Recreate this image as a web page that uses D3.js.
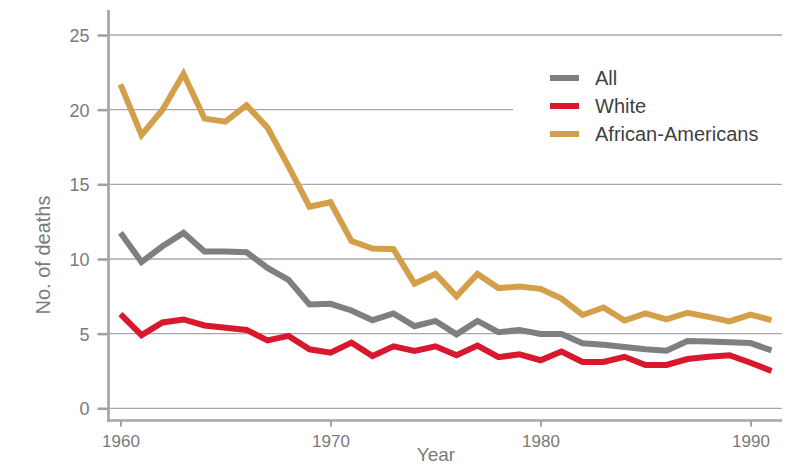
<!DOCTYPE html>
<html>
<head>
<meta charset="utf-8">
<script src="https://cdn.jsdelivr.net/npm/d3@7"></script>
<style>
  html, body { margin: 0; padding: 0; background: #fff; }
  svg { display: block; }
  text { font-family: "Liberation Sans", Arial, sans-serif; }
</style>
</head>
<body>
<svg id="chart" width="797" height="465"></svg>
<script>
const years = d3.range(1960, 1992);
const allDeaths = [11.75, 9.8, 10.85, 11.75, 10.5, 10.5, 10.45, 9.4, 8.6, 6.95, 7.0, 6.55, 5.9, 6.35, 5.5, 5.85, 4.95, 5.85, 5.1, 5.25, 4.98, 4.98, 4.35, 4.25, 4.1, 3.95, 3.85, 4.5, 4.47, 4.42, 4.37, 3.88];
const whiteDeaths = [6.3, 4.9, 5.75, 5.95, 5.55, 5.4, 5.25, 4.55, 4.85, 3.95, 3.73, 4.4, 3.5, 4.15, 3.85, 4.15, 3.55, 4.2, 3.42, 3.62, 3.22, 3.8, 3.1, 3.1, 3.45, 2.9, 2.9, 3.3, 3.45, 3.55, 3.05, 2.5];
const aaDeaths = [21.7, 18.3, 20.0, 22.4, 19.4, 19.2, 20.3, 18.8, 16.2, 13.5, 13.8, 11.2, 10.7, 10.65, 8.35, 9.0, 7.5, 9.0, 8.05, 8.15, 8.0, 7.35, 6.25, 6.75, 5.88, 6.35, 5.95, 6.4, 6.12, 5.82, 6.28, 5.9];
const seriesNames = ["All", "White", "African-Americans"];
const seriesColors = ["#7e7e83", "#d8182c", "#d49f4a"];
const xTicks = [1960, 1970, 1980, 1990];
const yTicks = [0, 5, 10, 15, 20, 25];

const series = [allDeaths, whiteDeaths, aaDeaths].map((vals, i) => ({
  name: seriesNames[i], color: seriesColors[i],
  values: years.map((y, j) => ({ year: y, v: vals[j] }))
}));

const svg = d3.select("#chart");
const x = d3.scaleLinear().domain([1960, 1991]).range([120.5, 771.5]);
const y = d3.scaleLinear().domain([0, 25]).range([408.3, 35]);
const axisX = 108.5, axisY = 420.5, rightEdge = 782;

// gridlines
svg.append("g").selectAll("line").data(yTicks).join("line")
  .attr("x1", axisX).attr("x2", rightEdge)
  .attr("y1", d => y(d)).attr("y2", d => y(d))
  .attr("stroke", "#a9a9a9").attr("stroke-width", 1.3);

// legend background
svg.append("rect").attr("x", 513).attr("y", 58).attr("width", 272).attr("height", 92).attr("fill", "#fff");

// lines
const line = d3.line().x(d => x(d.year)).y(d => y(d.v));
svg.append("g").selectAll("path").data(series).join("path")
  .attr("d", d => line(d.values))
  .attr("fill", "none")
  .attr("stroke", d => d.color)
  .attr("stroke-width", 6)
  .attr("stroke-linejoin", "miter");

// y axis
const yAxis = d3.axisLeft(y).tickValues(yTicks).tickSize(11).tickPadding(8).tickFormat(d3.format("d"));
const gy = svg.append("g").attr("transform", `translate(${axisX},0)`).call(yAxis);
gy.select(".domain").remove();
gy.selectAll(".tick line").attr("stroke", "#a0a0a0").attr("stroke-width", 2.5);
gy.selectAll(".tick text").attr("fill", "#7a7a7a").style("font-size", "18px")
  .attr("dy", "0.36em");
svg.append("line").attr("x1", axisX).attr("x2", axisX).attr("y1", 10).attr("y2", axisY + 1.5)
  .attr("stroke", "#a6a6a6").attr("stroke-width", 2.7);

// x axis
const xAxis = d3.axisBottom(x).tickValues(xTicks).tickSize(6).tickPadding(8).tickFormat(d3.format("d"));
const gx = svg.append("g").attr("transform", `translate(0,${axisY})`).call(xAxis);
gx.select(".domain").remove();
gx.selectAll(".tick line").attr("stroke", "#a0a0a0").attr("stroke-width", 2);
gx.selectAll(".tick text").attr("fill", "#7a7a7a").style("font-size", "17px");
svg.append("line").attr("x1", axisX - 1.3).attr("x2", rightEdge).attr("y1", axisY).attr("y2", axisY)
  .attr("stroke", "#a6a6a6").attr("stroke-width", 2.7);

// axis titles
svg.append("text").attr("x", 436).attr("y", 461).attr("text-anchor", "middle")
  .attr("fill", "#7a7a7a").style("font-size", "19px").text("Year");
svg.append("text").attr("transform", "translate(50,255) rotate(-90)").attr("text-anchor", "middle")
  .attr("fill", "#7a7a7a").style("font-size", "20px").text("No. of deaths");

// legend
const lg = svg.append("g").selectAll("g").data(series).join("g")
  .attr("transform", (d, i) => `translate(550,${78 + i * 28})`);
lg.append("rect").attr("x", 0).attr("y", -3).attr("width", 29).attr("height", 6).attr("fill", d => d.color);
lg.append("text").attr("x", 45).attr("y", 0).attr("dy", "0.35em")
  .attr("fill", "#3f3f3f").style("font-size", "20px").text(d => d.name);
</script>
</body>
</html>
